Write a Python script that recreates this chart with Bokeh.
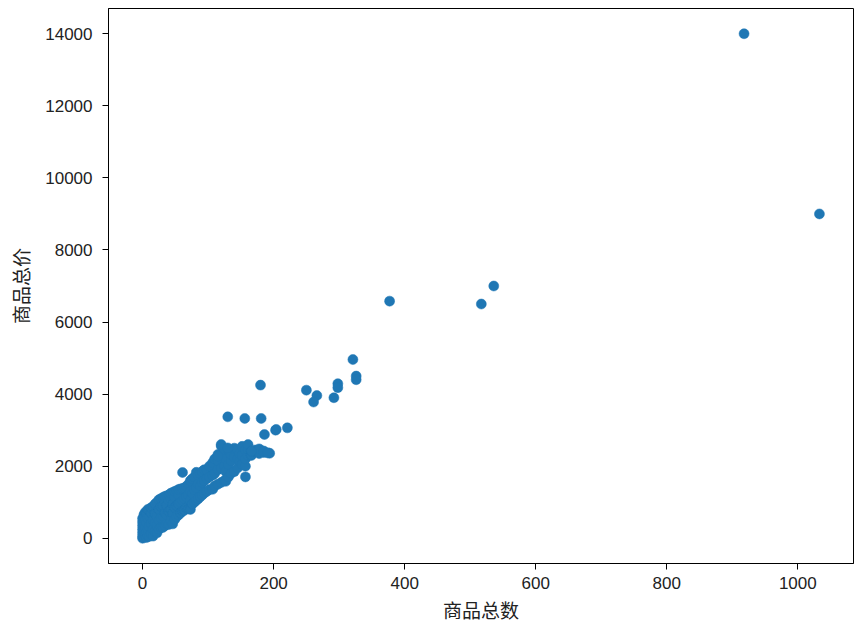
from bokeh.plotting import figure
from bokeh.models import Range1d, FixedTicker, ColumnDataSource
from bokeh.embed import file_html
from bokeh.resources import INLINE

# outliers and upper cluster
x_outer = [918, 1033, 377, 517, 536, 321, 326, 326, 298, 298, 250, 266, 261, 292,
           180, 130, 156, 181, 186, 203, 221, 194, 157, 61, 161, 120, 130, 115, 166, 191, 204]
y_outer = [14000, 9000, 6580, 6500, 7000, 4960, 4500, 4400, 4290, 4180, 4110, 3960, 3780, 3900,
           4250, 3370, 3325, 3325, 2880, 3000, 3064, 2360, 1703, 1825, 2600, 2603, 2508, 2278, 2417, 2370, 3020]

# dense main cluster
x_main = [0, 0, 0, 0, 0, 0, 0,
          2, 2, 2, 2,
          4, 4, 4, 4,
          6, 6, 6, 6,
          8, 8, 8, 8,
          10, 10, 10, 10,
          13, 13, 13, 13,
          16, 16, 16, 16,
          19, 19, 19, 19,
          22, 22, 22, 22,
          25, 25, 25, 25,
          28, 28, 28, 28,
          31, 31, 31, 31,
          34, 34, 34, 34,
          37, 37, 37, 37,
          40, 40, 40, 40,
          43, 43, 43, 43,
          46, 46, 46, 46,
          49, 49, 49, 49,
          52, 52, 52,
          55, 55, 55, 55,
          58, 58, 58,
          61, 61, 61,
          64, 64, 64,
          67, 67, 67,
          70, 70, 70,
          73, 73, 73, 73,
          76, 76, 76,
          79, 79, 79,
          82, 82, 82,
          85, 85, 85,
          88, 88, 88,
          91, 91, 91,
          94, 94, 94,
          98, 98, 98,
          102, 102, 102,
          107, 107, 107,
          110, 110, 110,
          115, 115, 115, 115,
          120, 120, 120, 120,
          125, 125, 125,
          127, 127, 127,
          131, 131, 131,
          135, 135, 135,
          140, 140, 140,
          145, 145, 145,
          148, 148,
          152, 152, 152,
          157, 157, 157,
          161, 161,
          166, 166,
          172, 172,
          178, 178,
          185, 185]
y_main = [0, 60, 150, 250, 350, 450, 550,
          30, 200, 400, 650,
          100, 300, 500, 720,
          20, 180, 420, 700,
          80, 260, 560, 800,
          50, 330, 620, 760,
          120, 400, 700, 850,
          60, 250, 500, 880,
          180, 420, 680, 950,
          150, 350, 600, 1000,
          250, 500, 800, 1070,
          300, 560, 880, 1100,
          300, 620, 900, 1130,
          350, 700, 1000, 1160,
          400, 650, 900, 1180,
          380, 750, 1050, 1200,
          480, 800, 1100, 1250,
          400, 700, 950, 1270,
          520, 850, 1150, 1300,
          600, 900, 1320,
          650, 950, 1200, 1350,
          700, 1000, 1370,
          750, 1050, 1380,
          780, 1100, 1400,
          850, 1150, 1440,
          820, 1200, 1500,
          800, 1050, 1300, 1600,
          950, 1250, 1650,
          1000, 1350, 1700,
          1050, 1400, 1830,
          1100, 1500, 1750,
          1150, 1450, 1800,
          1200, 1550, 1850,
          1250, 1600, 1900,
          1300, 1650, 1890,
          1350, 1700, 2000,
          1360, 1750, 2100,
          1450, 1800, 2200,
          1500, 1900, 2150, 2325,
          1550, 1950, 2300, 2560,
          1600, 2000, 2400,
          1580, 1850, 2200,
          1700, 2050, 2450,
          1800, 2150, 2325,
          1850, 2250, 2500,
          1950, 2200, 2450,
          2140, 2350,
          2050, 2300, 2550,
          2000, 2200, 2450,
          2300, 2450,
          2350, 2300,
          2400, 2450,
          2350, 2480,
          2380, 2420]

x_ticks = [0, 200, 400, 600, 800, 1000]
y_ticks = [0, 2000, 4000, 6000, 8000, 10000, 12000, 14000]

xs = x_main + x_outer
ys = y_main + y_outer
src = ColumnDataSource(data=dict(x=xs, y=ys))

p = figure(width=866, height=628, output_backend="svg", toolbar_location=None,
           x_range=Range1d(-52, 1085), y_range=Range1d(-700, 14700),
           min_border_left=108, min_border_right=13, min_border_top=8, min_border_bottom=65)
p.scatter("x", "y", source=src, size=10, fill_color="#1f77b4", line_color="#1f77b4", line_width=0.5)

p.xgrid.visible = False
p.ygrid.visible = False
p.outline_line_color = "black"
p.outline_line_alpha = 1
p.outline_line_width = 1
p.background_fill_color = "white"
p.border_fill_color = "white"

p.xaxis.ticker = FixedTicker(ticks=x_ticks)
p.yaxis.ticker = FixedTicker(ticks=y_ticks)
p.xaxis.axis_label = "商品总数"
p.yaxis.axis_label = "商品总价"
for ax in (p.xaxis, p.yaxis):
    ax.axis_line_color = "black"
    ax.major_tick_line_color = "black"
    ax.major_tick_out = 6
    ax.major_tick_in = 0
    ax.minor_tick_line_color = None
    ax.major_label_text_font = "Liberation Sans"
    ax.major_label_text_font_size = "17px"
    ax.major_label_text_color = "#222222"
    ax.axis_label_text_font = "Noto Sans CJK SC"
    ax.axis_label_text_font_size = "19px"
    ax.axis_label_text_font_style = "normal"
    ax.axis_label_text_color = "#222222"
p.xaxis.major_label_standoff = 7
p.yaxis.major_label_standoff = 10
p.xaxis.axis_label_standoff = 4
p.yaxis.axis_label_standoff = 8

open("out.html", "w").write(file_html(p, INLINE))
